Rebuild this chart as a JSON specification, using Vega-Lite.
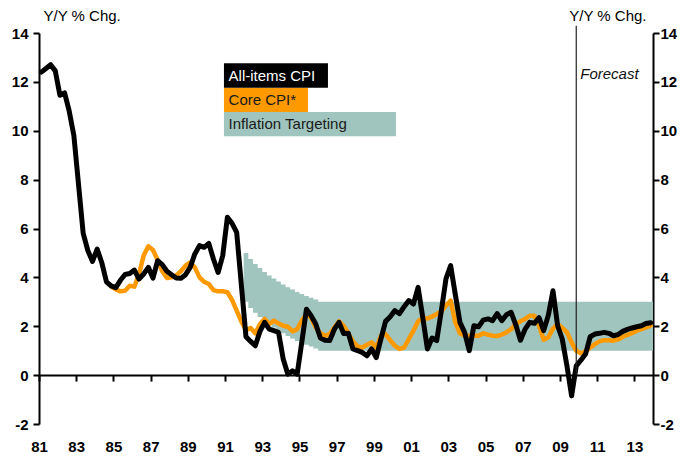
{
  "$schema": "https://vega.github.io/schema/vega-lite/v6.json",
  "width": 614,
  "height": 391,
  "autosize": {"type": "none"},
  "padding": {"left": 39, "top": 33, "right": 29, "bottom": 33},
  "background": "white",
  "config": {
    "view": {"stroke": null},
    "font": "Liberation Sans",
    "legend": {
      "title": null, "orient": "none", "padding": 0, "rowPadding": 0,
      "symbolSize": 590, "symbolStrokeWidth": 0, "symbolOpacity": 1, "labelOffset": -20,
      "labelFont": "Liberation Sans", "labelFontSize": 15, "labelLimit": 400
    }
  },
  "datasets": {
    "band": [
      {"t": 1992.0, "s": "Inflation Targeting", "hi": 5.0, "lo": 3.0},
      {"t": 1992.25, "s": "Inflation Targeting", "hi": 4.75, "lo": 2.75},
      {"t": 1992.5, "s": "Inflation Targeting", "hi": 4.55, "lo": 2.55},
      {"t": 1992.75, "s": "Inflation Targeting", "hi": 4.38, "lo": 2.38},
      {"t": 1993.0, "s": "Inflation Targeting", "hi": 4.22, "lo": 2.22},
      {"t": 1993.25, "s": "Inflation Targeting", "hi": 4.08, "lo": 2.08},
      {"t": 1993.5, "s": "Inflation Targeting", "hi": 3.95, "lo": 1.95},
      {"t": 1993.75, "s": "Inflation Targeting", "hi": 3.83, "lo": 1.83},
      {"t": 1994.0, "s": "Inflation Targeting", "hi": 3.71, "lo": 1.71},
      {"t": 1994.25, "s": "Inflation Targeting", "hi": 3.6, "lo": 1.6},
      {"t": 1994.5, "s": "Inflation Targeting", "hi": 3.5, "lo": 1.5},
      {"t": 1994.75, "s": "Inflation Targeting", "hi": 3.4, "lo": 1.4},
      {"t": 1995.0, "s": "Inflation Targeting", "hi": 3.32, "lo": 1.32},
      {"t": 1995.25, "s": "Inflation Targeting", "hi": 3.24, "lo": 1.24},
      {"t": 1995.5, "s": "Inflation Targeting", "hi": 3.17, "lo": 1.17},
      {"t": 1995.75, "s": "Inflation Targeting", "hi": 3.09, "lo": 1.09},
      {"t": 1996.0, "s": "Inflation Targeting", "hi": 3.0, "lo": 1.0},
      {"t": 2014.0, "s": "Inflation Targeting", "hi": 3.0, "lo": 1.0}
    ],
    "cpi": [
      {"t": 1981.125, "v": 12.4}, {"t": 1981.375, "v": 12.55}, {"t": 1981.625, "v": 12.7}, {"t": 1981.875, "v": 12.45},
      {"t": 1982.125, "v": 11.45}, {"t": 1982.375, "v": 11.55}, {"t": 1982.625, "v": 10.8}, {"t": 1982.875, "v": 9.8},
      {"t": 1983.125, "v": 7.8}, {"t": 1983.375, "v": 5.8}, {"t": 1983.625, "v": 5.1}, {"t": 1983.875, "v": 4.65},
      {"t": 1984.125, "v": 5.16}, {"t": 1984.375, "v": 4.6}, {"t": 1984.625, "v": 3.82}, {"t": 1984.875, "v": 3.65},
      {"t": 1985.125, "v": 3.58}, {"t": 1985.375, "v": 3.88}, {"t": 1985.625, "v": 4.12}, {"t": 1985.875, "v": 4.16},
      {"t": 1986.125, "v": 4.3}, {"t": 1986.375, "v": 3.93}, {"t": 1986.625, "v": 4.14}, {"t": 1986.875, "v": 4.41},
      {"t": 1987.125, "v": 3.97}, {"t": 1987.375, "v": 4.68}, {"t": 1987.625, "v": 4.52}, {"t": 1987.875, "v": 4.25},
      {"t": 1988.125, "v": 4.11}, {"t": 1988.375, "v": 3.97}, {"t": 1988.625, "v": 3.96}, {"t": 1988.875, "v": 4.11},
      {"t": 1989.125, "v": 4.41}, {"t": 1989.375, "v": 4.96}, {"t": 1989.625, "v": 5.3}, {"t": 1989.875, "v": 5.23},
      {"t": 1990.125, "v": 5.39}, {"t": 1990.375, "v": 4.75}, {"t": 1990.625, "v": 4.2}, {"t": 1990.875, "v": 4.89},
      {"t": 1991.125, "v": 6.46}, {"t": 1991.375, "v": 6.21}, {"t": 1991.625, "v": 5.84}, {"t": 1991.875, "v": 3.7},
      {"t": 1992.125, "v": 1.57}, {"t": 1992.375, "v": 1.38}, {"t": 1992.625, "v": 1.2}, {"t": 1992.875, "v": 1.79},
      {"t": 1993.125, "v": 2.16}, {"t": 1993.375, "v": 1.88}, {"t": 1993.625, "v": 1.82}, {"t": 1993.875, "v": 1.75},
      {"t": 1994.125, "v": 0.66}, {"t": 1994.375, "v": 0.04}, {"t": 1994.625, "v": 0.18}, {"t": 1994.875, "v": 0.04},
      {"t": 1995.125, "v": 1.35}, {"t": 1995.375, "v": 2.7}, {"t": 1995.625, "v": 2.43}, {"t": 1995.875, "v": 2.09},
      {"t": 1996.125, "v": 1.52}, {"t": 1996.375, "v": 1.43}, {"t": 1996.625, "v": 1.42}, {"t": 1996.875, "v": 1.88},
      {"t": 1997.125, "v": 2.16}, {"t": 1997.375, "v": 1.7}, {"t": 1997.625, "v": 1.71}, {"t": 1997.875, "v": 1.07},
      {"t": 1998.125, "v": 1.0}, {"t": 1998.375, "v": 0.93}, {"t": 1998.625, "v": 0.79}, {"t": 1998.875, "v": 1.07},
      {"t": 1999.125, "v": 0.72}, {"t": 1999.375, "v": 1.47}, {"t": 1999.625, "v": 2.2}, {"t": 1999.875, "v": 2.39},
      {"t": 2000.125, "v": 2.64}, {"t": 2000.375, "v": 2.52}, {"t": 2000.625, "v": 2.8}, {"t": 2000.875, "v": 3.05},
      {"t": 2001.125, "v": 2.91}, {"t": 2001.375, "v": 3.59}, {"t": 2001.625, "v": 2.36}, {"t": 2001.875, "v": 1.07},
      {"t": 2002.125, "v": 1.52}, {"t": 2002.375, "v": 1.41}, {"t": 2002.625, "v": 2.64}, {"t": 2002.875, "v": 3.95},
      {"t": 2003.125, "v": 4.48}, {"t": 2003.375, "v": 3.3}, {"t": 2003.625, "v": 2.16}, {"t": 2003.875, "v": 1.75},
      {"t": 2004.125, "v": 1.0}, {"t": 2004.375, "v": 2.02}, {"t": 2004.625, "v": 1.98}, {"t": 2004.875, "v": 2.25},
      {"t": 2005.125, "v": 2.3}, {"t": 2005.375, "v": 2.23}, {"t": 2005.625, "v": 2.52}, {"t": 2005.875, "v": 2.23},
      {"t": 2006.125, "v": 2.47}, {"t": 2006.375, "v": 2.57}, {"t": 2006.625, "v": 2.06}, {"t": 2006.875, "v": 1.43},
      {"t": 2007.125, "v": 1.88}, {"t": 2007.375, "v": 2.16}, {"t": 2007.625, "v": 2.12}, {"t": 2007.875, "v": 2.35},
      {"t": 2008.125, "v": 1.82}, {"t": 2008.375, "v": 2.45}, {"t": 2008.625, "v": 3.45}, {"t": 2008.875, "v": 2.02},
      {"t": 2009.125, "v": 1.47}, {"t": 2009.375, "v": 0.38}, {"t": 2009.625, "v": -0.85}, {"t": 2009.875, "v": 0.38},
      {"t": 2010.125, "v": 0.61}, {"t": 2010.375, "v": 0.86}, {"t": 2010.625, "v": 1.57}, {"t": 2010.875, "v": 1.68},
      {"t": 2011.125, "v": 1.71}, {"t": 2011.375, "v": 1.75}, {"t": 2011.625, "v": 1.71}, {"t": 2011.875, "v": 1.61},
      {"t": 2012.125, "v": 1.66}, {"t": 2012.375, "v": 1.79}, {"t": 2012.625, "v": 1.87}, {"t": 2012.875, "v": 1.93},
      {"t": 2013.125, "v": 1.98}, {"t": 2013.375, "v": 2.02}, {"t": 2013.625, "v": 2.11}, {"t": 2013.875, "v": 2.14}
    ],
    "core": [
      {"t": 1984.875, "v": 3.62},
      {"t": 1985.125, "v": 3.51}, {"t": 1985.375, "v": 3.43}, {"t": 1985.625, "v": 3.45}, {"t": 1985.875, "v": 3.66},
      {"t": 1986.125, "v": 3.62}, {"t": 1986.375, "v": 4.14}, {"t": 1986.625, "v": 4.89}, {"t": 1986.875, "v": 5.27},
      {"t": 1987.125, "v": 5.12}, {"t": 1987.375, "v": 4.71}, {"t": 1987.625, "v": 4.25}, {"t": 1987.875, "v": 3.97},
      {"t": 1988.125, "v": 4.0}, {"t": 1988.375, "v": 4.08}, {"t": 1988.625, "v": 4.25}, {"t": 1988.875, "v": 4.48},
      {"t": 1989.125, "v": 4.61}, {"t": 1989.375, "v": 4.41}, {"t": 1989.625, "v": 4.0}, {"t": 1989.875, "v": 3.82},
      {"t": 1990.125, "v": 3.73}, {"t": 1990.375, "v": 3.48}, {"t": 1990.625, "v": 3.43}, {"t": 1990.875, "v": 3.43},
      {"t": 1991.125, "v": 3.39}, {"t": 1991.375, "v": 3.08}, {"t": 1991.625, "v": 2.64}, {"t": 1991.875, "v": 2.2},
      {"t": 1992.125, "v": 1.84}, {"t": 1992.375, "v": 1.93}, {"t": 1992.625, "v": 1.71}, {"t": 1992.875, "v": 2.09},
      {"t": 1993.125, "v": 2.3}, {"t": 1993.375, "v": 2.09}, {"t": 1993.625, "v": 2.23}, {"t": 1993.875, "v": 2.11},
      {"t": 1994.125, "v": 2.02}, {"t": 1994.375, "v": 1.98}, {"t": 1994.625, "v": 1.79}, {"t": 1994.875, "v": 1.88},
      {"t": 1995.125, "v": 2.23}, {"t": 1995.375, "v": 2.5}, {"t": 1995.625, "v": 2.34}, {"t": 1995.875, "v": 1.95},
      {"t": 1996.125, "v": 1.71}, {"t": 1996.375, "v": 1.61}, {"t": 1996.625, "v": 1.68}, {"t": 1996.875, "v": 1.95},
      {"t": 1997.125, "v": 2.2}, {"t": 1997.375, "v": 2.02}, {"t": 1997.625, "v": 1.71}, {"t": 1997.875, "v": 1.38},
      {"t": 1998.125, "v": 1.17}, {"t": 1998.375, "v": 1.13}, {"t": 1998.625, "v": 1.24}, {"t": 1998.875, "v": 1.34},
      {"t": 1999.125, "v": 1.13}, {"t": 1999.375, "v": 1.61}, {"t": 1999.625, "v": 1.68}, {"t": 1999.875, "v": 1.43},
      {"t": 2000.125, "v": 1.2}, {"t": 2000.375, "v": 1.07}, {"t": 2000.625, "v": 1.13}, {"t": 2000.875, "v": 1.47},
      {"t": 2001.125, "v": 1.82}, {"t": 2001.375, "v": 2.2}, {"t": 2001.625, "v": 2.34}, {"t": 2001.875, "v": 2.32},
      {"t": 2002.125, "v": 2.39}, {"t": 2002.375, "v": 2.5}, {"t": 2002.625, "v": 2.6}, {"t": 2002.875, "v": 2.85},
      {"t": 2003.125, "v": 3.05}, {"t": 2003.375, "v": 2.16}, {"t": 2003.625, "v": 1.71}, {"t": 2003.875, "v": 1.61},
      {"t": 2004.125, "v": 1.61}, {"t": 2004.375, "v": 1.61}, {"t": 2004.625, "v": 1.61}, {"t": 2004.875, "v": 1.71},
      {"t": 2005.125, "v": 1.66}, {"t": 2005.375, "v": 1.61}, {"t": 2005.625, "v": 1.6}, {"t": 2005.875, "v": 1.66},
      {"t": 2006.125, "v": 1.75}, {"t": 2006.375, "v": 1.88}, {"t": 2006.625, "v": 2.09}, {"t": 2006.875, "v": 2.2},
      {"t": 2007.125, "v": 2.3}, {"t": 2007.375, "v": 2.43}, {"t": 2007.625, "v": 2.43}, {"t": 2007.875, "v": 2.02},
      {"t": 2008.125, "v": 1.45}, {"t": 2008.375, "v": 1.55}, {"t": 2008.625, "v": 1.9}, {"t": 2008.875, "v": 2.09},
      {"t": 2009.125, "v": 1.93}, {"t": 2009.375, "v": 1.75}, {"t": 2009.625, "v": 1.34}, {"t": 2009.875, "v": 1.0},
      {"t": 2010.125, "v": 0.89}, {"t": 2010.375, "v": 0.97}, {"t": 2010.625, "v": 1.13}, {"t": 2010.875, "v": 1.27},
      {"t": 2011.125, "v": 1.38}, {"t": 2011.375, "v": 1.43}, {"t": 2011.625, "v": 1.43}, {"t": 2011.875, "v": 1.41},
      {"t": 2012.125, "v": 1.46}, {"t": 2012.375, "v": 1.57}, {"t": 2012.625, "v": 1.65}, {"t": 2012.875, "v": 1.72},
      {"t": 2013.125, "v": 1.82}, {"t": 2013.375, "v": 1.88}, {"t": 2013.625, "v": 1.95}, {"t": 2013.875, "v": 2.02}
    ],
    "forecast": [{"t": 2009.875, "label": "Forecast"}]
  },
  "layer": [
    {
      "data": {"name": "band"},
      "mark": {"type": "area", "interpolate": "step-after", "opacity": 1},
      "encoding": {
        "x": {
          "field": "t", "type": "quantitative",
          "scale": {"domain": [1981, 2014], "nice": false, "zero": false},
          "axis": {
            "values": [1981, 1983, 1985, 1987, 1989, 1991, 1993, 1995, 1997, 1999, 2001, 2003, 2005, 2007, 2009, 2011, 2013],
            "tickCount": 40,
            "labelExpr": "substring(toString(datum.value), 2)",
            "offset": -48.9, "title": null, "grid": false,
            "tickSize": 6, "tickWidth": 2, "tickColor": "black",
            "domainColor": "black", "domainWidth": 2,
            "labelFont": "Liberation Sans", "labelFontSize": 15, "labelFontWeight": "bold", "labelColor": "black",
            "labelBaseline": "middle", "labelPadding": 65, "labelFlush": false, "labelOverlap": false
          }
        },
        "y": {
          "field": "hi", "type": "quantitative",
          "scale": {"domain": [-2, 14], "nice": false, "zero": false},
          "axis": {
            "orient": "left", "values": [-2, 0, 2, 4, 6, 8, 10, 12, 14], "tickCount": 40,
            "labelExpr": "toString(datum.value)",
            "grid": false, "tickSize": 6, "tickWidth": 2, "tickColor": "black",
            "domainColor": "black", "domainWidth": 2,
            "labelFont": "Liberation Sans", "labelFontSize": 15, "labelFontWeight": "bold", "labelColor": "black",
            "labelPadding": 5, "labelFlush": false, "labelOverlap": false,
            "title": "Y/Y % Chg.", "titleAngle": 0, "titleAlign": "left", "titleBaseline": "middle",
            "titleX": 4, "titleY": -18, "titleFont": "Liberation Sans", "titleFontSize": 15, "titleFontWeight": "normal", "titleColor": "black"
          }
        },
        "y2": {"field": "lo"},
        "color": {
          "field": "s", "type": "nominal",
          "scale": {"domain": ["Inflation Targeting"], "range": ["#A0C4BE"]},
          "legend": {
            "legendX": 184.6, "legendY": 78.6,
            "symbolType": "M-1,-1H13.162V1H-1Z", "symbolFillColor": "#A0C4BE", "labelColor": "#1a1a1a"
          }
        }
      }
    },
    {
      "data": {"name": "core"},
      "mark": {"type": "line", "strokeWidth": 4.5, "strokeJoin": "round", "strokeCap": "round"},
      "encoding": {
        "x": {"field": "t", "type": "quantitative"},
        "y": {"field": "v", "type": "quantitative", "scale": {"domain": [-2, 14], "nice": false, "zero": false}, "axis": null},
        "color": {
          "datum": "Core CPI*", "type": "nominal",
          "scale": {"domain": ["Core CPI*"], "range": ["#FF9900"]},
          "legend": {
            "legendX": 184.6, "legendY": 54.3,
            "symbolType": "M-1,-1H5.916V1H-1Z", "symbolFillColor": "#FF9900", "symbolStrokeColor": "#FF9900", "labelColor": "#1a1a1a"
          }
        }
      }
    },
    {
      "data": {"name": "cpi"},
      "mark": {"type": "line", "strokeWidth": 5, "strokeJoin": "round", "strokeCap": "round"},
      "encoding": {
        "x": {"field": "t", "type": "quantitative"},
        "y": {"field": "v", "type": "quantitative", "scale": {"domain": [-2, 14], "nice": false, "zero": false}, "axis": null},
        "color": {
          "datum": "All-items CPI", "type": "nominal",
          "scale": {"domain": ["All-items CPI"], "range": ["#000000"]},
          "legend": {
            "legendX": 184.6, "legendY": 30,
            "symbolType": "M-1,-1H7.563V1H-1Z", "symbolFillColor": "#000000", "symbolStrokeColor": "#000000", "labelColor": "#ffffff"
          }
        }
      }
    },
    {
      "data": {"name": "forecast"},
      "mark": {"type": "rule", "color": "#222222", "strokeWidth": 1.2},
      "encoding": {
        "x": {"field": "t", "type": "quantitative"},
        "y": {
          "datum": 0, "type": "quantitative",
          "scale": {"domain": [-2, 14], "nice": false, "zero": false},
          "axis": {
            "orient": "right", "values": [-2, 0, 2, 4, 6, 8, 10, 12, 14], "tickCount": 40,
            "labelExpr": "toString(datum.value)",
            "grid": false, "tickSize": 6, "tickWidth": 2, "tickColor": "black",
            "domainColor": "black", "domainWidth": 2,
            "labelFont": "Liberation Sans", "labelFontSize": 15, "labelFontWeight": "bold", "labelColor": "black",
            "labelPadding": 1, "labelFlush": false, "labelOverlap": false,
            "title": "Y/Y % Chg.", "titleAngle": 0, "titleAlign": "right", "titleBaseline": "middle",
            "titleX": -7, "titleY": -18, "titleFont": "Liberation Sans", "titleFontSize": 15, "titleFontWeight": "normal", "titleColor": "black"
          }
        },
        "y2": {"datum": 14.3}
      }
    },
    {
      "data": {"name": "forecast"},
      "mark": {"type": "text", "align": "left", "baseline": "middle", "dx": 4, "font": "Liberation Sans", "fontSize": 15, "fontStyle": "italic", "color": "#111111"},
      "encoding": {
        "x": {"field": "t", "type": "quantitative"},
        "y": {"datum": 12.32, "type": "quantitative", "scale": {"domain": [-2, 14], "nice": false, "zero": false}, "axis": null},
        "text": {"field": "label"}
      }
    }
  ],
  "resolve": {"scale": {"y": "independent", "color": "independent"}}
}
